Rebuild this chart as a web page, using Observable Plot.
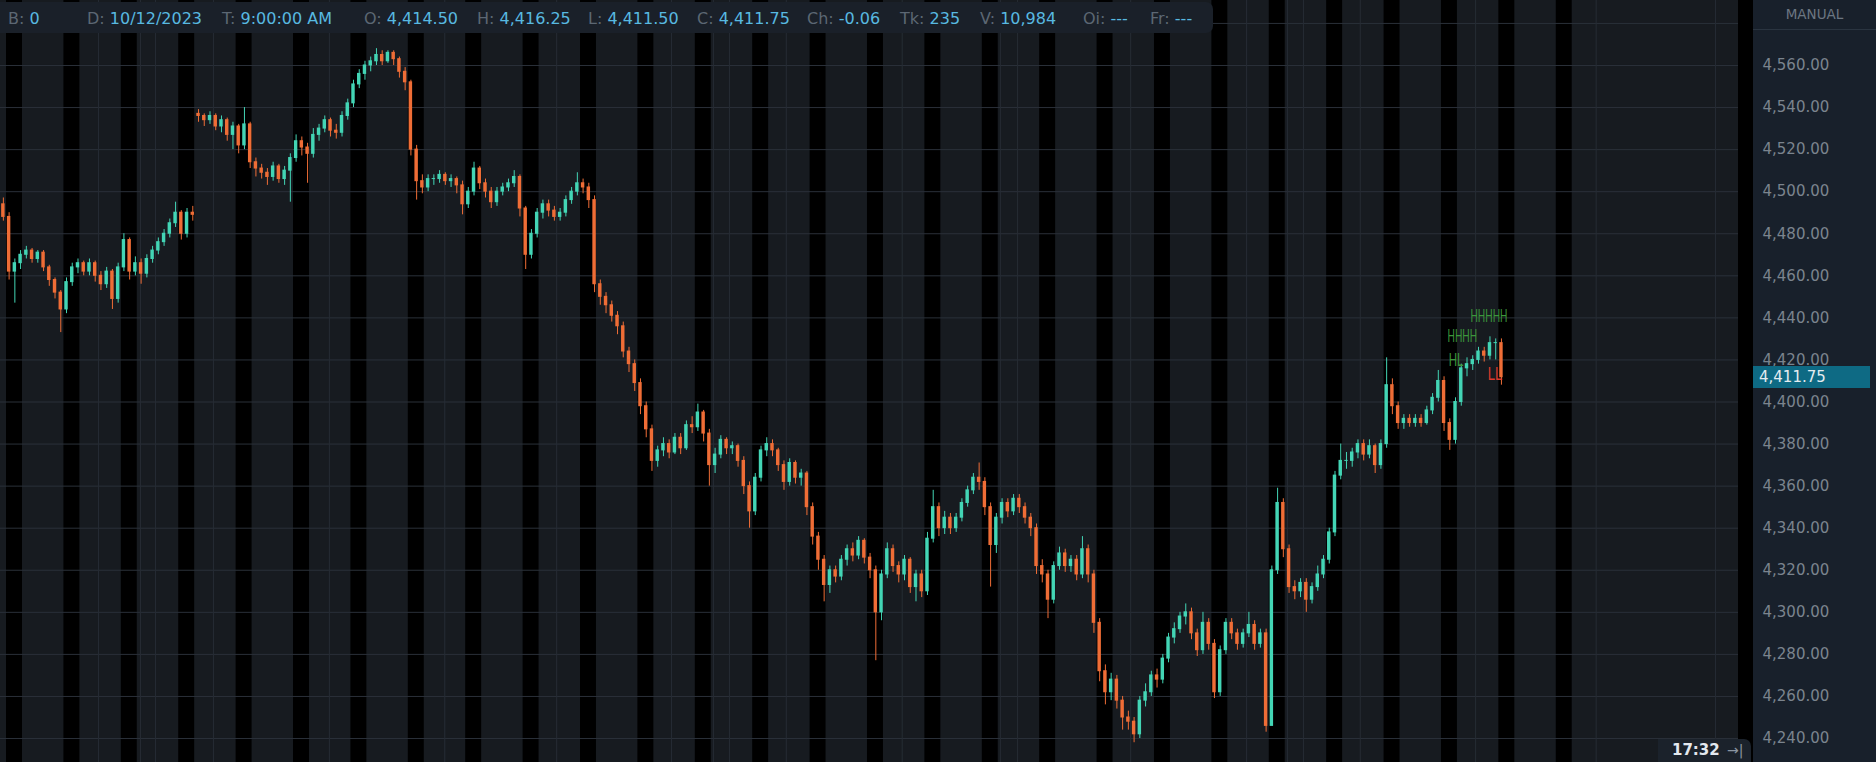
<!DOCTYPE html>
<html>
<head>
<meta charset="utf-8">
<script src="https://cdn.jsdelivr.net/npm/d3@7"></script>
<script src="https://cdn.jsdelivr.net/npm/@observablehq/plot@0.6"></script>
<style>
  html, body { margin: 0; padding: 0; background: #000; overflow: hidden; }
  #wrap { position: relative; width: 1876px; height: 762px; font-family: "DejaVu Sans", Verdana, sans-serif; }
  #wrap svg { display: block; }
  #info { position: absolute; left: 0; top: 2px; width: 1213px; height: 31px; background: #1a2029; border-radius: 0 7px 7px 0; font-size: 16px; }
  #info .f { position: absolute; top: 0; line-height: 33px; white-space: nowrap; }
  #info .lab { color: #5c6773; }
  #info .val { color: #58b9e0; }
  #manual { position: absolute; left: 1753px; top: 0; width: 123px; height: 29px; border-bottom: 1px solid #2a3440; color: #6c7682; font-size: 13.5px; text-align: center; line-height: 28px; }
  #pricebox { position: absolute; left: 1753px; width: 117px; height: 22px; background: #0e6a84; color: #e3ecf0; font-size: 15px; line-height: 22px; padding-left: 6px; box-sizing: border-box; }
  #clock { position: absolute; left: 1658px; top: 739px; width: 93px; height: 23px; background: #1b222b; border-radius: 0 7px 0 0; font-size: 15px; line-height: 23px; }
  #clock .t { position: absolute; left: 14px; color: #e3e8ee; font-weight: bold; }
  #clock .a { position: absolute; left: 69px; color: #8a95a1; font-size: 14px; }
</style>
</head>
<body>
<div id="wrap"></div>
<script>
// ---------------- data ----------------
// first bar of each contiguous run and its opening price
const runStart = [0, 34];
const runOpen  = [4494, 4537];

// closes (one bar = 1/10 of a session)
const close1 = [4488,4462,4466,4470,4472,4468,4471,4464,4458,4452, 4444,4457,4464,4466,4462,4466,4460,4456,4462,4449,
                4464,4477,4462,4466,4461,4468,4472,4476,4480,4485, 4490,4480,4490,4489];
const close2 = [4536,4534,4536,4531,4534,4527,4531,4522,4532,4514, 4511,4509,4507,4512,4506,4510,4516,4524,4521,4518,
                4527,4530,4534,4529,4528,4536,4542,4551,4556,4560, 4562,4565,4562,4566,4563,4557,4552,4520,4505,4502,
                4506,4506,4508,4505,4506,4503,4494,4500,4511,4504, 4500,4495,4500,4502,4504,4507,4492,4470,4480,4490,
                4494,4491,4488,4490,4496,4500,4504,4502,4496,4456];
const close3 = [4450,4446,4441,4436,4424,4418,4409,4398,4387,4372, 4377,4380,4376,4383,4378,4389,4388,4395,4385,4370,
                4375,4382,4378,4379,4372,4360,4348,4364,4377,4380, 4377,4370,4362,4371,4364,4366,4350,4336,4325,4313,
                4320,4317,4325,4330,4327,4334,4326,4320,4300,4318, 4330,4322,4318,4325,4312,4318,4310,4335,4350,4340,
                4345,4340,4345,4352,4358,4364,4362,4350,4332,4345, 4352,4348,4354,4350,4345,4340,4322,4318,4306,4322];
const close4 = [4328,4322,4325,4318,4330,4318,4295,4272,4262,4268, 4258,4250,4248,4242,4258,4262,4270,4268,4278,4288,
                4292,4298,4300,4290,4282,4295,4285,4262,4282,4295, 4290,4285,4290,4294,4285,4290,4246,4320,4352,4330,
                4312,4310,4314,4306,4312,4318,4325,4338,4365,4372, 4372,4376,4380,4375,4379,4370,4380,4408,4398,4390,
                4392,4390,4392,4390,4396,4402,4410,4390,4382,4400, 4416,4418,4420,4424,4422,4428,4428,4411.75];

const high1 = [4497,4490,4468,4472,4474,4473,4472,4472,4465,4459, 4453,4459,4466,4468,4467,4468,4467,4462,4464,4463,
               4466,4480,4478,4469,4468,4470,4474,4478,4482,4487, 4495,4491,4492,4493];
const high2 = [4539,4537,4538,4537,4536,4535,4533,4532,4540,4533, 4516,4513,4511,4514,4513,4512,4518,4527,4526,4523,
               4530,4532,4536,4535,4532,4538,4544,4553,4558,4562, 4564,4568,4567,4567,4567,4564,4559,4553,4522,4508,
               4508,4508,4510,4509,4508,4507,4505,4502,4514,4512, 4506,4502,4502,4504,4506,4510,4508,4493,4482,4492,
               4496,4496,4493,4492,4498,4502,4509,4506,4504,4498];
const high3 = [4458,4452,4448,4443,4438,4426,4420,4411,4400,4389, 4379,4383,4382,4385,4385,4391,4393,4399,4396,4387,
               4378,4384,4383,4381,4380,4374,4362,4366,4379,4383, 4382,4378,4372,4373,4372,4368,4367,4352,4338,4327,
               4322,4322,4327,4332,4333,4336,4335,4328,4322,4320, 4333,4332,4324,4327,4326,4320,4320,4338,4358,4352,
               4348,4347,4347,4354,4360,4366,4371,4364,4352,4347, 4354,4354,4356,4356,4352,4347,4342,4325,4320,4324];
const high4 = [4331,4330,4327,4327,4336,4332,4320,4297,4275,4271, 4270,4260,4253,4250,4260,4266,4272,4273,4280,4290,
               4295,4300,4304,4302,4292,4300,4297,4287,4284,4297, 4297,4292,4292,4300,4296,4292,4292,4322,4359,4354,
               4332,4315,4316,4316,4314,4322,4327,4340,4367,4380, 4376,4378,4382,4382,4382,4380,4382,4421,4411,4400,
               4394,4394,4394,4394,4398,4404,4415,4412,4392,4402, 4418,4421,4422,4426,4426,4431,4430,4430];

const low1 = [4486,4458,4447,4463,4468,4466,4466,4462,4455,4449, 4433,4442,4455,4461,4460,4460,4457,4453,4454,4444,
              4447,4462,4458,4460,4456,4459,4466,4470,4474,4478, 4483,4477,4478,4486];
const low2 = [4533,4531,4532,4529,4528,4524,4520,4518,4520,4511, 4507,4506,4503,4505,4504,4503,4495,4514,4517,4504,
              4516,4524,4528,4526,4525,4526,4534,4540,4549,4553, 4557,4560,4560,4561,4560,4554,4548,4517,4496,4499,
              4500,4503,4504,4503,4502,4499,4489,4492,4498,4501, 4497,4492,4493,4498,4500,4502,4488,4463,4468,4478,
              4487,4488,4486,4486,4488,4494,4498,4499,4492,4452];
const low3 = [4446,4442,4438,4432,4421,4414,4405,4394,4383,4367, 4369,4374,4373,4375,4375,4377,4385,4386,4381,4360,
              4366,4373,4375,4375,4369,4356,4340,4346,4362,4374, 4374,4367,4358,4360,4361,4360,4346,4332,4320,4305,
              4309,4314,4315,4322,4324,4325,4323,4316,4277,4296, 4316,4319,4314,4315,4309,4305,4307,4308,4333,4336,
              4337,4337,4338,4343,4350,4356,4358,4346,4312,4328, 4342,4345,4346,4347,4342,4336,4318,4314,4297,4304];
const low4 = [4320,4319,4319,4315,4316,4314,4290,4267,4256,4258, 4254,4244,4244,4238,4240,4255,4260,4264,4266,4276,
              4285,4290,4294,4287,4279,4280,4282,4259,4260,4280, 4287,4282,4283,4288,4282,4283,4243,4246,4318,4326,
              4309,4306,4307,4300,4304,4310,4316,4323,4336,4363, 4368,4369,4373,4372,4373,4366,4368,4378,4394,4387,
              4387,4388,4388,4388,4389,4394,4400,4386,4377,4380, 4398,4412,4415,4418,4419,4420,4420,4408];

// session shading (black bands) : 28 sessions, 10 bars each
const barsPerSession = 10;
const sessionCount = 28;
const sessionShadeFrom = 1.05, sessionShadeTo = 3.83;   // bar offsets inside a session
// time grid lines (bar positions)
const timeGrid = [17.07,24.4,27.0,37.1,57.3,77.4,96.9,116.9,124.2,127.0,136.9,157.1,174.2,177.2,196.9,217.1,224.2,227.0,236.9,257.0,278.0,298.8];
// price grid / tick labels
const priceGrid = d3.range(4240, 4600, 20);
const priceLabels = d3.range(4240, 4561, 20);
const lastPrice = 4411.75;

// swing labels (clusters of stacked swing marks)
const swingText  = ["HHHHH", "HHHH", "HL", "LL"];
const swingBar   = [256.1, 252.1, 252.3, 259.1];
const swingPrice = [4441.0, 4431.5, 4420.0, 4413.3];
const swingKind  = ["up", "up", "up", "down"];

// info bar
const infoLabels = ["B:", "D:", "T:", "O:", "H:", "L:", "C:", "Ch:", "Tk:", "V:", "Oi:", "Fr:"];
const infoValues = ["0", "10/12/2023", "9:00:00 AM", "4,414.50", "4,416.25", "4,411.50", "4,411.75", "-0.06", "235", "10,984", "---", "---"];
const infoX = [8, 87, 222, 364, 477, 588, 697, 807, 900, 980, 1083, 1150];

// ---------------- build ----------------
const closes = close1.concat(close2, close3, close4);
const highs = high1.concat(high2, high3, high4);
const lows = low1.concat(low2, low3, low4);
const bars = closes.map((c, i) => {
  const r = runStart.indexOf(i);
  const o = r >= 0 ? runOpen[r] : closes[i - 1];
  return {i, open: o, close: c, high: Math.max(highs[i], o, c), low: Math.min(lows[i], o, c), up: c >= o};
});
const upBars = bars.filter(d => d.up), dnBars = bars.filter(d => !d.up);
const sessions = d3.range(sessionCount);
const swings = swingText.map((t, k) => ({text: t, bar: swingBar[k], price: swingPrice[k], kind: swingKind[k]}));

const UP = "#43d5b5", DN = "#ef6d36";
const GRID = "#2a3039";

const chart = Plot.plot({
  width: 1876,
  height: 762,
  marginLeft: 0,
  marginRight: 138,
  marginTop: 0,
  marginBottom: 0,
  style: {
    background: "linear-gradient(90deg, #171b20 0px, #171b20 1738px, #000 1738px, #000 1753px, #18202b 1753px)",
    fontFamily: "'DejaVu Sans', Verdana, sans-serif",
    overflow: "visible"
  },
  x: {domain: [0, 302.8], axis: null},
  y: {domain: [4228.6, 4590.9], axis: null},
  marks: [
    Plot.rect(sessions, {x1: d => d * barsPerSession + sessionShadeFrom, x2: d => d * barsPerSession + sessionShadeTo, fill: "#000"}),
    Plot.gridY(priceGrid, {stroke: GRID, strokeOpacity: 1}),
    Plot.gridX(timeGrid, {stroke: "#262c34", strokeOpacity: 1}),
    Plot.ruleX(upBars, {x: d => d.i + 0.5, y1: "low", y2: "high", stroke: UP, strokeWidth: 1}),
    Plot.ruleX(dnBars, {x: d => d.i + 0.5, y1: "low", y2: "high", stroke: DN, strokeWidth: 1}),
    Plot.rect(upBars, {x1: d => d.i + 0.2, x2: d => d.i + 0.8, y1: "open", y2: "close", fill: UP, insetTop: -0.5, insetBottom: -0.5}),
    Plot.rect(dnBars, {x1: d => d.i + 0.2, x2: d => d.i + 0.8, y1: "open", y2: "close", fill: DN, insetTop: -0.5, insetBottom: -0.5}),
    Plot.text(swings, {x: "bar", y: "price", text: "text", fill: d => d.kind === "up" ? "#3c963c" : "#dd3a2c",
      textAnchor: "start", lineAnchor: "middle", fontSize: 18,
      fontFamily: "'Liberation Sans', sans-serif"}),
    Plot.axisY(priceLabels, {anchor: "right", tickSize: 0, tickPadding: 24, tickFormat: d3.format(",.2f"),
      color: "#7b848e", fontSize: 15})
  ]
});

// narrow, tall swing glyphs as in the reference
d3.select(chart).selectAll('g[aria-label="text"] text')
  .attr("textLength", function () { return this.textContent.length * 7.4; })
  .attr("lengthAdjust", "spacingAndGlyphs");

const wrap = document.getElementById("wrap");
wrap.appendChild(chart);

// info bar overlay
const info = document.createElement("div");
info.id = "info";
infoLabels.forEach((lab, k) => {
  const f = document.createElement("div");
  f.className = "f";
  f.style.left = infoX[k] + "px";
  f.innerHTML = `<span class="lab">${lab}</span> <span class="val">${infoValues[k]}</span>`;
  info.appendChild(f);
});
wrap.appendChild(info);

// MANUAL header
const man = document.createElement("div");
man.id = "manual";
man.textContent = "MANUAL";
wrap.appendChild(man);

// last price marker, placed with the chart's y scale
const yS = chart.scale("y");
const pb = document.createElement("div");
pb.id = "pricebox";
pb.style.top = (yS.apply(lastPrice) - 11) + "px";
pb.textContent = d3.format(",.2f")(lastPrice);
wrap.appendChild(pb);

// clock box
const clock = document.createElement("div");
clock.id = "clock";
clock.innerHTML = `<span class="t">17:32</span><span class="a">→|</span>`;
wrap.appendChild(clock);
</script>
</body>
</html>
